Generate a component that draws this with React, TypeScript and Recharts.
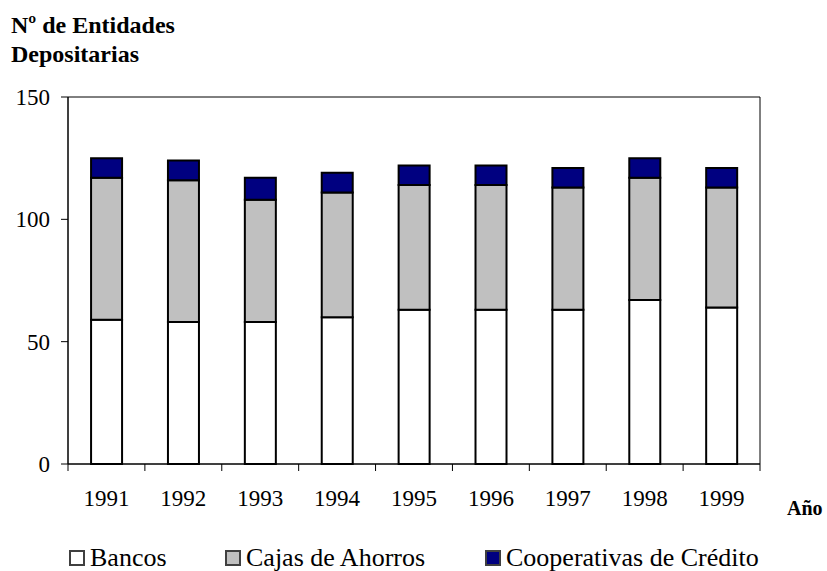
import { Bar, BarChart, ReferenceArea, XAxis, YAxis } from "recharts";

if (typeof document !== "undefined") {
  document.body.style.margin = "0";
}

const anios = ["1991", "1992", "1993", "1994", "1995", "1996", "1997", "1998", "1999"];
const bancos = [59, 58, 58, 60, 63, 63, 63, 67, 64];
const cajas = [58, 58, 50, 51, 51, 51, 50, 50, 49];
const cooperativas = [8, 8, 9, 8, 8, 8, 8, 8, 8];
const yTicks = [0, 50, 100, 150];

const series = [
  { key: "bancos", nombre: "Bancos", color: "#ffffff" },
  { key: "cajas", nombre: "Cajas de Ahorros", color: "#c0c0c0" },
  { key: "cooperativas", nombre: "Cooperativas de Crédito", color: "#000080" },
];

const datos = anios.map((anio, i) => ({
  anio,
  bancos: bancos[i],
  cajas: cajas[i],
  cooperativas: cooperativas[i],
}));

const fuente = '"Liberation Serif", "Times New Roman", serif';
const paso = 692 / anios.length;
const leyendaX = [69, 225, 485];

function TickAnio(props: any) {
  const { x, y, payload, index } = props;
  const mitad = payload?.offset || paso / 2;
  return (
    <g>
      <line x1={x - mitad} y1={y - 8} x2={x - mitad} y2={y - 1} stroke="#000" />
      {index === anios.length - 1 && (
        <line x1={x + mitad} y1={y - 8} x2={x + mitad} y2={y - 1} stroke="#000" />
      )}
      <text x={x} y={y + 34} textAnchor="middle" fontSize={23} fontFamily={fuente} fill="#000">
        {payload.value}
      </text>
    </g>
  );
}

export default function App() {
  return (
    <div style={{ position: "relative", width: 827, height: 571, overflow: "hidden", fontFamily: fuente }}>
      <div style={{ position: "absolute", left: 11, top: 11, fontWeight: "bold", fontSize: 24, lineHeight: "28.5px" }}>
        Nº de Entidades
        <br />
        Depositarias
      </div>
      <BarChart
        width={827}
        height={571}
        data={datos}
        margin={{ top: 97, right: 67, bottom: 77, left: 0 }}
        barCategoryGap="30%"
      >
        <XAxis
          dataKey="anio"
          tick={<TickAnio />}
          tickLine={false}
          axisLine={{ stroke: "#000" }}
          interval={0}
        />
        <YAxis
          width={68}
          domain={[0, 150]}
          ticks={yTicks}
          tickSize={7}
          tickMargin={11}
          tickLine={{ stroke: "#000" }}
          axisLine={{ stroke: "#000" }}
          tick={{ fill: "#000", fontSize: 23, fontFamily: fuente }}
        />
        <ReferenceArea y1={0} y2={150} fill="none" stroke="#000" strokeWidth={1} />
        {series.map((s) => (
          <Bar
            key={s.key}
            dataKey={s.key}
            name={s.nombre}
            stackId="a"
            fill={s.color}
            stroke="#000"
            strokeWidth={2}
            isAnimationActive={false}
          />
        ))}
      </BarChart>
      <div
        style={{
          position: "absolute",
          left: 787,
          top: 496,
          fontWeight: "bold",
          fontSize: 20,
          lineHeight: "24px",
          whiteSpace: "nowrap",
        }}
      >
        Año
      </div>
      {series.map((s, i) => (
        <div
          key={s.key}
          style={{
            position: "absolute",
            left: leyendaX[i],
            top: 545,
            display: "flex",
            alignItems: "center",
            fontSize: 26,
            lineHeight: "26px",
            whiteSpace: "nowrap",
          }}
        >
          <span
            style={{
              display: "inline-block",
              width: 12,
              height: 12,
              background: s.color,
              border: "2px solid #404040",
              marginRight: 5,
            }}
          />
          {s.nombre}
        </div>
      ))}
    </div>
  );
}
